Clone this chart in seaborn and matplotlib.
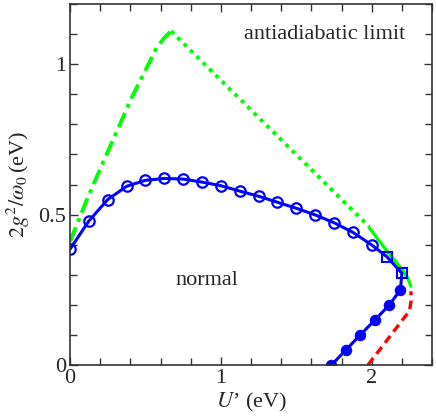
import numpy as np
import pandas as pd
import matplotlib
matplotlib.use("Agg")
import matplotlib.pyplot as plt
import seaborn as sns
from matplotlib.ticker import MultipleLocator

# ---- data ----
open_u = [0.0, 0.125, 0.25, 0.375, 0.5, 0.625, 0.75, 0.875, 1.0, 1.125, 1.25,
          1.375, 1.5, 1.625, 1.75, 1.875, 2.0]
open_g = [0.385, 0.479, 0.55, 0.594, 0.614, 0.62, 0.618, 0.608, 0.596, 0.578,
          0.561, 0.541, 0.521, 0.499, 0.473, 0.441, 0.399]
sq_u = [2.1, 2.2]
sq_g = [0.36, 0.305]
fill_u = [2.19, 2.117, 2.022, 1.924, 1.829, 1.733]
fill_g = [0.25, 0.2, 0.15, 0.1, 0.05, 0.0]

green_dd_u = [0.0, 0.12, 0.26, 0.41, 0.5, 0.57, 0.62, 0.67]
green_dd_g = [0.41, 0.56, 0.72, 0.89, 0.98, 1.05, 1.085, 1.11]
green_dot_u = [0.67, 1.985]
green_dot_g = [1.11, 0.459]
green_sol_u = [1.985, 2.105, 2.205, 2.24, 2.26]
green_sol_g = [0.455, 0.376, 0.315, 0.288, 0.262]
red_u = [1.975, 2.25, 2.26, 2.26]
red_g = [0.0, 0.18, 0.21, 0.245]

sns.set_style("ticks")
plt.rcParams['font.family'] = ['Liberation Serif', 'DejaVu Serif']
plt.rcParams['mathtext.fontset'] = 'stix'

fig = plt.figure(figsize=(4.36, 4.17), dpi=100)
ax = fig.add_axes([0.1606, 0.1247, 0.8304, 0.8657])

blue = (0, 0, 1)
green = (0, 1, 0)
red = (1, 0, 0)

# green curves
sns.lineplot(x=green_dd_u, y=green_dd_g, ax=ax, color=green, lw=2.8,
             sort=False, estimator=None)
ax.lines[-1].set_dashes([4, 1.5, 1, 1.5])
sns.lineplot(x=green_dot_u, y=green_dot_g, ax=ax, color=green, lw=2.8,
             sort=False, estimator=None)
ax.lines[-1].set_linestyle((0, (1, 1.3)))
sns.lineplot(x=green_sol_u, y=green_sol_g, ax=ax, color=green, lw=2.4,
             sort=False, estimator=None)
# red dashed
sns.lineplot(x=red_u, y=red_g, ax=ax, color=red, lw=2.4,
             sort=False, estimator=None)
ax.lines[-1].set_linestyle((0, (2.6, 1.6)))

# blue connected curve
bu = open_u + sq_u + fill_u
bg = open_g + sq_g + fill_g
sns.lineplot(x=bu, y=bg, ax=ax, color=blue, lw=2.2, sort=False, estimator=None)
sns.lineplot(x=open_u, y=open_g, ax=ax, color=blue, lw=0, marker='o', ms=7.5,
             mfc='none', mec=blue, mew=1.6, sort=False, estimator=None)
sns.lineplot(x=sq_u, y=sq_g, ax=ax, color=blue, lw=0, marker='s', ms=7.5,
             mfc='none', mec=blue, mew=1.5, sort=False, estimator=None)
sns.lineplot(x=fill_u, y=fill_g, ax=ax, color=blue, lw=0, marker='o', ms=7.5,
             mfc=blue, mec=blue, sort=False, estimator=None)

ax.set_xlim(0, 2.4)
ax.set_ylim(0, 1.2)
ax.xaxis.set_major_locator(MultipleLocator(1))
ax.xaxis.set_minor_locator(MultipleLocator(0.2))
ax.yaxis.set_major_locator(MultipleLocator(0.5))
ax.yaxis.set_minor_locator(MultipleLocator(0.1))
ax.xaxis.set_major_formatter(plt.FuncFormatter(lambda v, p: f"{v:g}"))
ax.yaxis.set_major_formatter(plt.FuncFormatter(lambda v, p: f"{v:g}"))
ax.tick_params(which='both', direction='in', top=True, right=True,
               labelsize=16, width=1, color='#333333')
ax.tick_params(which='major', length=6, pad=3)
ax.tick_params(which='minor', length=5)
for s in ax.spines.values():
    s.set_linewidth(1.2)
    s.set_color('#333333')

ax.set_xlabel("$U$’ (eV)", fontsize=16, labelpad=2)
ax.set_ylabel(r"$2g^2/\omega_0\,$(eV)", fontsize=16, labelpad=4)

ax.text(1.69, 1.1, "antiadiabatic limit", fontsize=16, ha='center', va='center')
ax.text(0.91, 0.28, "normal", fontsize=16, ha='center', va='center')

fig.savefig("out.png", dpi=100)
